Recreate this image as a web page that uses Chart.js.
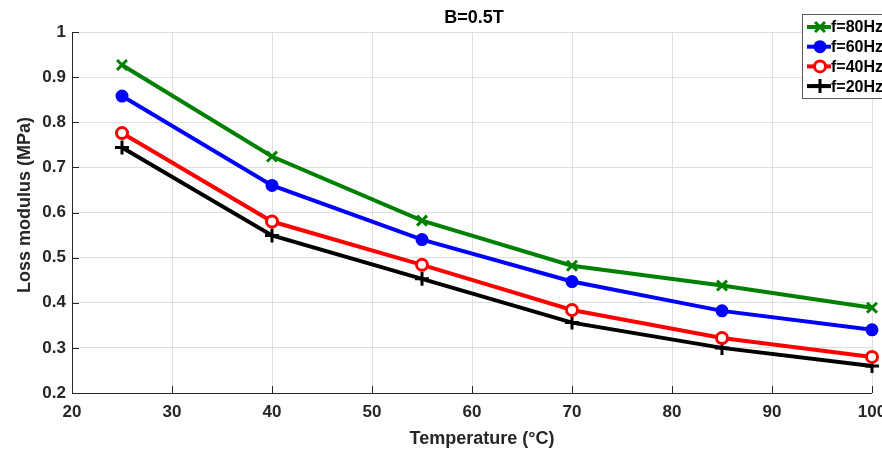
<!DOCTYPE html>
<html>
<head>
<meta charset="utf-8">
<script src="https://cdn.jsdelivr.net/npm/chart.js@4.4.1/dist/chart.umd.min.js"></script>
<style>
    html, body { margin: 0; padding: 0; background: #fff; }
    #wrap { width: 882px; height: 450px; }
</style>
</head>
<body>
<div id="wrap"><canvas id="lossChart" width="882" height="450"></canvas></div>
<script>
// Loss modulus vs temperature, B = 0.5T
const temperatures = [25, 40, 55, 70, 85, 100];
const f80Hz = [0.927, 0.724, 0.582, 0.482, 0.438, 0.389];
const f60Hz = [0.858, 0.660, 0.540, 0.447, 0.382, 0.340];
const f40Hz = [0.776, 0.580, 0.484, 0.384, 0.322, 0.280];
const f20Hz = [0.744, 0.549, 0.453, 0.356, 0.300, 0.260];
const seriesLabels = ["f=80Hz", "f=60Hz", "f=40Hz", "f=20Hz"];
const chartTitle = "B=0.5T";
const xTitle = "Temperature (°C)";
const yTitle = "Loss modulus (MPa)";

const FONT = "'Liberation Sans', Arial, sans-serif";

function toPoints(values) {
    return values.map((v, i) => ({ x: temperatures[i], y: v }));
}

function makeSet(label, values, color, style, radius, bg) {
    return {
        label: label,
        data: toPoints(values),
        borderColor: color,
        backgroundColor: bg,
        pointStyle: style,
        pointRadius: radius,
        pointBorderWidth: 3,
        pointBorderColor: color,
        pointBackgroundColor: bg,
        borderWidth: 4,
        tension: 0,
        clip: false
    };
}

const datasets = [
    makeSet(seriesLabels[0], f80Hz, "#008000", "crossRot", 7, "#008000"),
    makeSet(seriesLabels[1], f60Hz, "#0000ff", "circle", 5, "#0000ff"),
    makeSet(seriesLabels[2], f40Hz, "#ff0000", "circle", 5.5, "#ffffff"),
    makeSet(seriesLabels[3], f20Hz, "#000000", "cross", 7, "#000000")
];

// title, axis titles, axis lines, inward ticks and the legend box, MATLAB style
const matlabDecor = {
    id: "matlabDecor",
    afterDraw(chart) {
        const ctx = chart.ctx;
        const area = chart.chartArea;
        const xs = chart.scales.x;
        const ys = chart.scales.y;
        ctx.save();

        // axis lines
        ctx.strokeStyle = "#262626";
        ctx.lineWidth = 1;
        ctx.beginPath();
        ctx.moveTo(area.left + 0.5, area.top);
        ctx.lineTo(area.left + 0.5, area.bottom + 0.5);
        ctx.lineTo(area.right, area.bottom + 0.5);
        ctx.stroke();

        // inward ticks
        ctx.beginPath();
        ys.ticks.forEach(t => {
            const y = Math.round(ys.getPixelForValue(t.value)) + 0.5;
            ctx.moveTo(area.left, y);
            ctx.lineTo(area.left + 7, y);
        });
        xs.ticks.forEach(t => {
            const x = Math.round(xs.getPixelForValue(t.value)) + 0.5;
            ctx.moveTo(x, area.bottom);
            ctx.lineTo(x, area.bottom - 7);
        });
        ctx.stroke();

        // titles
        ctx.fillStyle = "#000";
        ctx.font = "bold 18px " + FONT;
        ctx.textAlign = "center";
        ctx.textBaseline = "middle";
        ctx.fillText(chartTitle, 474, 18);
        ctx.fillStyle = "#262626";
        ctx.fillText(xTitle, 482, 439);
        ctx.save();
        ctx.translate(25, 205);
        ctx.rotate(-Math.PI / 2);
        ctx.fillText(yTitle, 0, 0);
        ctx.restore();

        // legend
        const bx = 802.5, by = 14.5, bw = 86, bh = 84;
        ctx.fillStyle = "#fff";
        ctx.fillRect(bx, by, bw, bh);
        ctx.strokeStyle = "#5a5a5a";
        ctx.lineWidth = 1;
        ctx.strokeRect(bx, by, bw, bh);
        ctx.font = "bold 16px " + FONT;
        ctx.textAlign = "left";
        chart.data.datasets.forEach((ds, i) => {
            const y = 27 + i * 19.7;
            ctx.strokeStyle = ds.borderColor;
            ctx.lineWidth = 4;
            ctx.beginPath();
            ctx.moveTo(807, y);
            ctx.lineTo(831, y);
            ctx.stroke();
            ctx.fillStyle = ds.pointBackgroundColor;
            ctx.strokeStyle = ds.pointBorderColor;
            ctx.lineWidth = ds.pointBorderWidth;
            Chart.helpers.drawPoint(ctx, {
                pointStyle: ds.pointStyle,
                radius: ds.pointRadius,
                borderWidth: ds.pointBorderWidth,
                rotation: 0
            }, 820, y);
            ctx.fillStyle = "#000";
            ctx.fillText(ds.label, 831, y + 1);
        });
        ctx.restore();
    }
};

new Chart(document.getElementById("lossChart").getContext("2d"), {
    type: "line",
    data: { datasets: datasets },
    options: {
        responsive: false,
        animation: false,
        devicePixelRatio: 1,
        layout: { padding: { top: 32, right: 7, left: 0, bottom: 0 } },
        plugins: {
            legend: { display: false },
            title: { display: false },
            tooltip: { enabled: false }
        },
        scales: {
            x: {
                type: "linear",
                min: 20,
                max: 100,
                border: { display: false },
                grid: { color: "#dfdfdf", lineWidth: 1, drawTicks: false },
                ticks: {
                    stepSize: 10,
                    padding: 9,
                    color: "#262626",
                    font: { family: FONT, size: 17, weight: "bold" }
                },
                afterFit(scale) {
                    scale.height = 57;
                    scale.paddingLeft = 0;
                    scale.paddingRight = 0;
                }
            },
            y: {
                min: 0.2,
                max: 1,
                border: { display: false },
                grid: { color: "#dfdfdf", lineWidth: 1, drawTicks: false },
                ticks: {
                    stepSize: 0.1,
                    padding: 6,
                    color: "#262626",
                    font: { family: FONT, size: 17, weight: "bold" },
                    callback: v => String(+v.toFixed(1))
                },
                afterFit(scale) {
                    scale.width = 72;
                    scale.paddingTop = 0;
                    scale.paddingBottom = 0;
                }
            }
        }
    },
    plugins: [matlabDecor]
});
</script>
</body>
</html>
